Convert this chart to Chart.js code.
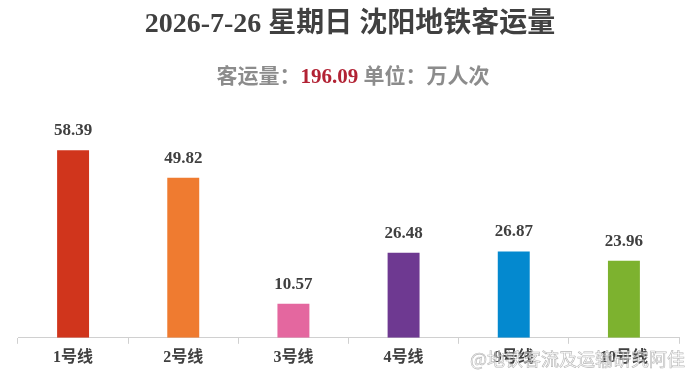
<!DOCTYPE html>
<html>
<head>
<meta charset="utf-8">
<script src="https://cdn.jsdelivr.net/npm/chart.js@4.4.1/dist/chart.umd.min.js"></script>
<style>
  html, body { margin: 0; padding: 0; background: #ffffff; }
  #wrap { position: relative; width: 690px; height: 379px; overflow: hidden; }
  #chart { position: absolute; left: 0; top: 0; }
  .title {
    position: absolute; left: 0; top: 0px; width: 700px; text-align: center;
    font-family: "Liberation Serif", "Noto Sans CJK SC", serif; font-weight: bold;
    font-size: 28px; color: #404040;
  }
  .subtitle {
    position: absolute; left: 0; top: 59px; width: 706px; text-align: center;
    font-family: "Liberation Serif", "Noto Sans CJK SC", serif; font-weight: bold;
    font-size: 21px; color: #8c8c8c;
  }
  .subtitle .total { color: #b22234; }
  .mark {
    position: absolute; left: 470px; top: 345px;
    font-family: "Noto Sans CJK SC", sans-serif; font-size: 18px;
    color: rgba(255, 255, 255, 0.55);
    -webkit-text-stroke: 0.6px rgba(150, 150, 150, 0.7);
  }
</style>
</head>
<body>
<div id="wrap">
  <canvas id="chart" width="690" height="379"></canvas>
  <div class="title">2026-7-26 星期日 沈阳地铁客运量</div>
  <div class="subtitle">客运量：<span class="total">196.09</span> 单位：万人次</div>
  <div class="mark">@地铁客流及运输研究阿佳</div>
</div>
<script>
const LINES = ["1号线", "2号线", "3号线", "4号线", "9号线", "10号线"];
const RIDERSHIP = [58.39, 49.82, 10.57, 26.48, 26.87, 23.96];
const LINE_COLORS = ["#d0351c", "#ef7b30", "#e4679f", "#6e3991", "#0489cf", "#7db22f"];

const valueLabels = {
  id: "valueLabels",
  afterDatasetsDraw(chart) {
    const { ctx } = chart;
    const meta = chart.getDatasetMeta(0);
    ctx.save();
    ctx.font = "bold 17px 'Liberation Serif', serif";
    ctx.fillStyle = "#404040";
    ctx.textAlign = "center";
    ctx.textBaseline = "bottom";
    meta.data.forEach((bar, i) => {
      ctx.fillText(RIDERSHIP[i].toFixed(2), bar.x, bar.y - 11);
    });
    ctx.restore();
  },
};

new Chart(document.getElementById("chart"), {
  type: "bar",
  data: {
    labels: LINES,
    datasets: [
      {
        data: RIDERSHIP,
        backgroundColor: LINE_COLORS,
        borderWidth: 0,
        categoryPercentage: 1,
        barPercentage: 0.29,
      },
    ],
  },
  options: {
    responsive: false,
    animation: false,
    layout: { padding: { left: 18, right: 11, top: 113, bottom: 8 } },
    plugins: {
      legend: { display: false },
      tooltip: { enabled: false },
    },
    scales: {
      x: {
        grid: {
          display: true,
          drawOnChartArea: false,
          drawTicks: true,
          tickLength: 6,
          color: "#d0d0d0",
        },
        border: { color: "#d0d0d0", width: 1 },
        ticks: {
          color: "#404040",
          padding: 4,
          font: { family: "'Liberation Serif', 'Noto Sans CJK SC', serif", size: 16, weight: "bold" },
        },
      },
      y: {
        display: false,
        min: 0,
        max: 70,
      },
    },
  },
  plugins: [valueLabels],
});
</script>
</body>
</html>
